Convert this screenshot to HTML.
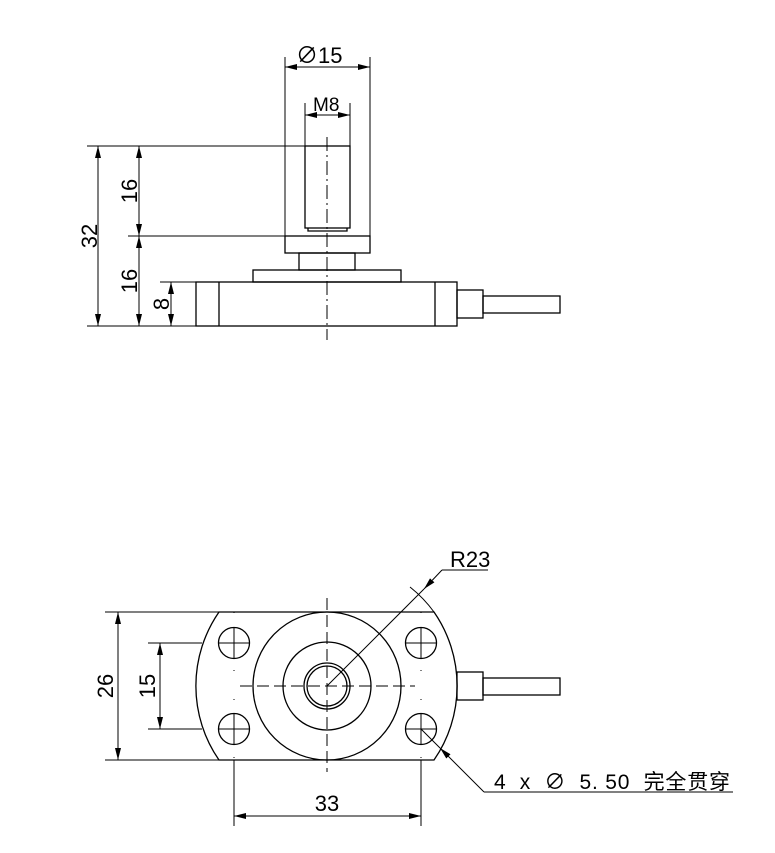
<!DOCTYPE html>
<html><head><meta charset="utf-8"><style>body{margin:0;background:#fff}svg{display:block}</style></head><body>
<svg width="775" height="853" viewBox="0 0 775 853" xmlns="http://www.w3.org/2000/svg" font-family="Liberation Sans, Noto Sans CJK SC, sans-serif">
<defs>
<marker id="a" viewBox="0 0 12 6" refX="12" refY="3" markerWidth="12" markerHeight="6" orient="auto-start-reverse" markerUnits="userSpaceOnUse"><path d="M0,0L12,3L0,6z" fill="#000"/></marker>
</defs>
<g stroke="#000" fill="none" stroke-width="1.3">
<rect x="305" y="146" width="45" height="82"/>
<path d="M308,228V231H347V228"/>
<rect x="285" y="236" width="85" height="17"/>
<rect x="299" y="253" width="56" height="17"/>
<rect x="253" y="270" width="148" height="12"/>
<rect x="196" y="282" width="261" height="44"/>
<path d="M219,282V326M435,282V326"/>
<rect x="457" y="290" width="26" height="28"/>
<rect x="483" y="296" width="77" height="17"/>
</g>
<g stroke="#000" fill="none" stroke-width="1">
<path d="M327,137V340" stroke-dasharray="14,4,2,4"/>
<path d="M87,146H305M128,236H285M160,282H196M87,326H196"/>
<path d="M285,57V236M370,57V236M305,103V146M350,103V146"/>
<path d="M285,67H370" marker-start="url(#a)" marker-end="url(#a)"/>
<path d="M305,115H350" marker-start="url(#a)" marker-end="url(#a)"/>
<path d="M98,146V326" marker-start="url(#a)" marker-end="url(#a)"/>
<path d="M139,146V236" marker-start="url(#a)" marker-end="url(#a)"/>
<path d="M139,236V326" marker-start="url(#a)" marker-end="url(#a)"/>
<path d="M171,282V326" marker-start="url(#a)" marker-end="url(#a)"/>
</g>
<g font-size="22" fill="#000">
<text x="296" y="63">∅15</text>
<text x="313" y="111" font-size="19">M8</text>
<text transform="translate(97,236) rotate(-90)" text-anchor="middle">32</text>
<text transform="translate(137,191) rotate(-90)" text-anchor="middle">16</text>
<text transform="translate(137,281) rotate(-90)" text-anchor="middle">16</text>
<text transform="translate(169,304) rotate(-90)" text-anchor="middle">8</text>
</g>
<g stroke="#000" fill="none" stroke-width="1.3">
<path d="M219,612H434A130,130 0 0 1 434,760H219A130,130 0 0 1 219,612Z"/>
<circle cx="327" cy="686" r="74"/>
<circle cx="327" cy="686" r="44"/>
<circle cx="327" cy="686" r="23"/>
<circle cx="327" cy="686" r="20"/>
<circle cx="234" cy="643" r="15.5"/><circle cx="421" cy="643" r="15.5"/>
<circle cx="234" cy="729" r="15.5"/><circle cx="421" cy="729" r="15.5"/>
<rect x="457" y="672" width="26" height="28"/>
<rect x="483" y="678" width="77" height="17"/>
</g>
<g stroke="#000" fill="none" stroke-width="1">
<path d="M219,643H249M234,628V658M406,643H436M421,628V658M219,729H249M234,714V744M406,729H436M421,714V744"/>
<path d="M240,686H415" stroke-dasharray="12,5"/>
<path d="M327,598V772" stroke-dasharray="12,5"/>
<path d="M234,612V760M421,612V760" stroke-dasharray="1,28"/>
<path d="M410,587A130,130 0 0 1 434,612"/>
<path d="M105,612H219M105,760H219M148,643H202M148,729H202M234,760V826M421,760V826"/>
<path d="M118,612V760" marker-start="url(#a)" marker-end="url(#a)"/>
<path d="M160,643V729" marker-start="url(#a)" marker-end="url(#a)"/>
<path d="M234,816H421" marker-start="url(#a)" marker-end="url(#a)"/>
<path d="M327,686L424,589"/>
<path d="M442,570L424,589" marker-end="url(#a)"/>
<path d="M442,570H488"/>
<path d="M421,729L440,748"/>
<path d="M484,792L440,748" marker-end="url(#a)"/>
<path d="M484,792H733"/>
</g>
<g font-size="22" fill="#000">
<text x="450" y="567">R23</text>
<text transform="translate(113,686) rotate(-90)" text-anchor="middle">26</text>
<text transform="translate(155,686) rotate(-90)" text-anchor="middle">15</text>
<text x="327" y="811" text-anchor="middle">33</text>
<text x="494" y="789" font-size="21" textLength="236" lengthAdjust="spacing" xml:space="preserve">4  x  ∅  5. 50  完全贯穿</text>
</g>
</svg>
</body></html>
